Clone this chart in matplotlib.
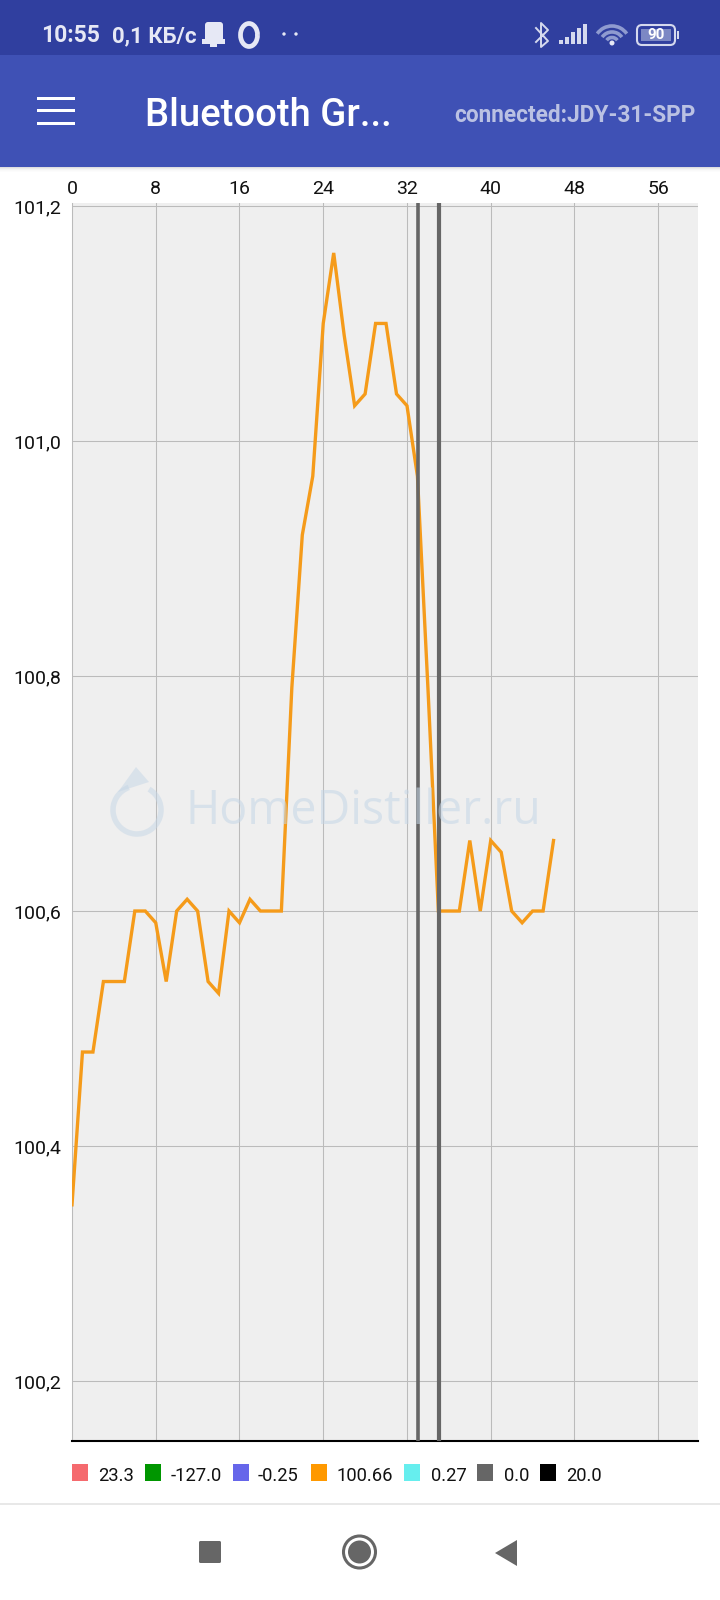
import numpy as np
import matplotlib
matplotlib.use('Agg')
import matplotlib.pyplot as plt
from matplotlib.patches import Rectangle, FancyBboxPatch, Circle, Polygon, Arc

plt.rcParams['font.family'] = ['Roboto', 'DejaVu Sans']

# data
samples = [0, 1, 2, 3, 4, 5, 6, 7, 8, 9, 10, 11, 12, 13, 14, 15, 16, 17, 18, 19, 20, 21, 22, 23,
           24, 25, 26, 27, 28, 29, 30, 31, 32, 33, 34, 35, 36, 37, 38, 39, 40, 41, 42, 43, 44, 45, 46]
temps = [100.35, 100.48, 100.48, 100.54, 100.54, 100.54, 100.60, 100.60, 100.59, 100.54, 100.60,
         100.61, 100.60, 100.54, 100.53, 100.60, 100.59, 100.61, 100.60, 100.60, 100.60, 100.79,
         100.92, 100.97, 101.10, 101.16, 101.09, 101.03, 101.04, 101.10, 101.10, 101.04, 101.03,
         100.97, 100.79, 100.60, 100.60, 100.60, 100.66, 100.60, 100.66, 100.65, 100.60, 100.59,
         100.60, 100.60, 100.66]
marker_lines = [33.05, 35.05]
x_ticks = [0, 8, 16, 24, 32, 40, 48, 56]
y_ticks = [100.2, 100.4, 100.6, 100.8, 101.0, 101.2]
y_tick_labels = ['100,2', '100,4', '100,6', '100,8', '101,0', '101,2']
legend_labels = ['23.3', '-127.0', '-0.25', '100.66', '0.27', '0.0', '20.0']
legend_colors = ['#F56A6E', '#009600', '#6666EA', '#FF9900', '#66EEEE', '#666666', '#000000']

W, H = 720, 1600
fig = plt.figure(figsize=(W / 100, H / 100), dpi=100, facecolor='white')

# main chart, position given in screen pixels
left, right, top, bottom = 72, 698, 203, 1441
ax = fig.add_axes([left / W, 1 - bottom / H, (right - left) / W, (bottom - top) / H])
ax.set_facecolor('#EFEFEF')
ax.set_xlim(0, 59.8)
ax.set_ylim(100.149, 101.2025)
ax.xaxis.tick_top()
ax.set_xticks(x_ticks)
ax.set_yticks(y_ticks)
ax.set_yticklabels(y_tick_labels)
ax.tick_params(axis='both', length=0, labelsize=14, colors='#111111')
ax.tick_params(axis='x', pad=3.5)
ax.tick_params(axis='y', pad=8)
ax.grid(True, color='#BBBBBB', lw=0.75)
ax.set_axisbelow(True)
for s in ['top', 'right']:
    ax.spines[s].set_visible(False)
ax.spines['left'].set_color('#BBBBBB')
ax.spines['left'].set_linewidth(0.75)
ax.spines['bottom'].set_color('#000000')
ax.spines['bottom'].set_linewidth(1.5)

ax.plot(samples, temps, color='#F59B1A', lw=2.4, solid_joinstyle='miter', zorder=3)
for m, lw in zip(marker_lines, [2.6, 3]):
    ax.axvline(m, color='#666666', lw=lw, zorder=4)

# overlay in pixel coordinates for the phone screen parts
ui = fig.add_axes([0, 0, 1, 1], zorder=5)
ui.set_xlim(0, W)
ui.set_ylim(H, 0)
ui.axis('off')
ui.patch.set_alpha(0)


def box(x, y, w, h, color, **kw):
    ui.add_patch(Rectangle((x, y), w, h, fc=color, ec='none', **kw))


# header
box(0, 0, W, 55, '#303F9F')
box(0, 55, W, 112, '#3F51B5')
for i, c in enumerate(['#DEDEE0', '#EAEAEC', '#F3F3F4', '#F9F9F9', '#FCFCFC']):
    box(0, 167 + i, W, 1, c)
for y in [98, 110, 123]:
    box(37, y - 1.5, 38, 3.5, 'white')
ui.text(145, 116, 'Bluetooth Gr...', color='white', fontsize=27.5, fontweight='medium', va='center', ha='left')
ui.text(696, 115, 'connected:JDY-31-SPP', color='#BAC1E3', fontsize=16.3, fontweight='bold', va='center', ha='right')

# status bar
ui.text(41, 36, '10:55', color='#E6E8F5', fontsize=16.5, fontweight='bold', va='center')
ui.text(112, 36, '0,1 КБ/с', color='#E6E8F5', fontsize=16, fontweight='bold', va='center')
ui.add_patch(FancyBboxPatch((205, 22), 18, 21, boxstyle='round,pad=0,rounding_size=3', fc='#E6E8F5', ec='none'))
box(202, 39, 23, 5, '#E6E8F5')
box(210, 44, 7, 3, '#E6E8F5')
ui.add_patch(Arc((249, 35), 17, 23, lw=3.4, color='#E6E8F5'))
for x in [284, 296]:
    ui.add_patch(Circle((x, 34), 1.7, fc='#E6E8F5', ec='none'))
ui.plot([536, 548, 541, 541, 548, 536], [28, 41, 47, 23, 30, 42], color='#D5D9EE', lw=1.4)
for i, bh in enumerate([4, 7, 12, 16, 20]):
    box(559 + i * 6, 44 - bh, 3.5, bh, '#D5D9EE')
for r in [36, 24, 13]:
    ui.add_patch(Arc((612, 44), r, r, theta1=215, theta2=325, lw=2.6, color='#8F9BD0'))
ui.add_patch(Circle((612, 43), 2.5, fc='#E6E8F5', ec='none'))
ui.add_patch(FancyBboxPatch((637, 25), 38, 20, boxstyle='round,pad=0,rounding_size=5', fc='none', ec='#D5D9EE', lw=1.5))
box(641, 29, 30, 12, '#7C88C4')
box(677, 31, 2, 8, '#D5D9EE')
ui.text(656, 35, '90', color='white', fontsize=11, fontweight='bold', va='center', ha='center')

# watermark over the plot
wm = '#C5D6E6'
ui.text(186, 811, 'HomeDistiller.ru', color=wm, alpha=0.55, fontsize=33.5, family=['Open Sans', 'DejaVu Sans'],
        va='center', ha='left')
ui.add_patch(Arc((137, 810), 48, 48, theta1=-60 + 360, theta2=250 + 360, lw=4, color=wm, alpha=0.5))
ui.add_patch(Polygon([[136, 767], [118, 792], [149, 782]], fc=wm, ec='none', alpha=0.5))

# legend row
swatch_x = [72, 145, 233, 311, 404, 477, 540]
label_x = [98, 171, 258, 337, 431, 504, 566]
for sx, lx, lab, col in zip(swatch_x, label_x, legend_labels, legend_colors):
    box(sx, 1464, 16, 16.5, col)
    ui.text(lx, 1476, lab, color='#111111', fontsize=13.2, va='center', ha='left')

# navigation bar
box(0, 1503, W, 1.5, '#E8E8E8')
nav = '#666666'
ui.add_patch(FancyBboxPatch((199, 1541), 22, 22, boxstyle='round,pad=0,rounding_size=1.5', fc=nav, ec='none'))
ui.add_patch(Circle((359.5, 1552), 16, fc='none', ec=nav, lw=2.2))
ui.add_patch(Circle((359.5, 1552), 11.5, fc=nav, ec='none'))
ui.add_patch(Polygon([[495, 1553], [517, 1540], [517, 1566]], fc=nav, ec='none'))

fig.savefig('out.png', dpi=100)
